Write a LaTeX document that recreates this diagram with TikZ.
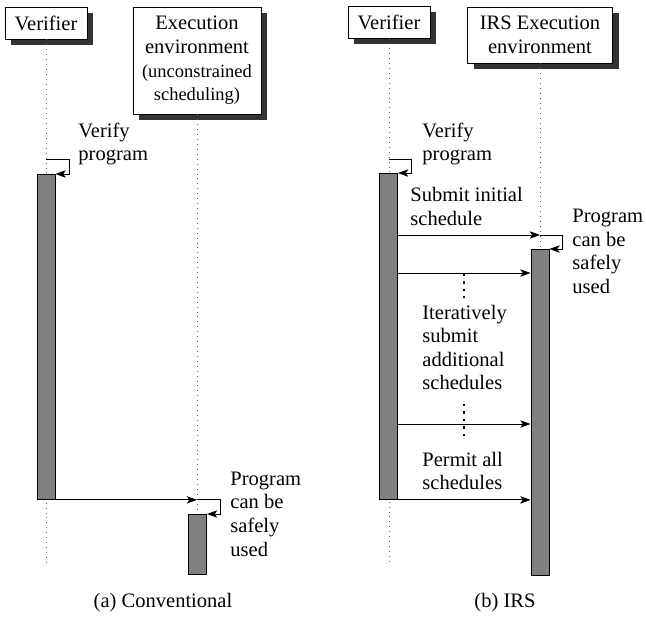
\documentclass[tikz,border=0pt]{standalone}
\usepackage{fontspec}
\setmainfont{Liberation Serif}
\usetikzlibrary{positioning,calc,shadows,arrows.meta}

\begin{document}
\begin{tikzpicture}[x=0.487pt, y=-0.487pt, >={Stealth[length=5pt,width=3.6pt,inset=1.2pt]}, font=\fontsize{10}{11.5}\selectfont]
    % Styles
    \tikzstyle{actor} = [draw, fill=white, align=center, inner sep=3pt, drop shadow={shadow xshift=3pt, shadow yshift=-3pt, fill=black!80, opacity=1}]
    \tikzstyle{life} = [dotted, black!60]
    \tikzstyle{act} = [draw, fill=black!50, minimum width=8.8pt, inner sep=0pt, anchor=north]
    \tikzstyle{lbl} = [align=left, anchor=west, inner sep=0pt]
    \tikzstyle{dots} = [line width=1.1pt, dash pattern=on 1.1pt off 2.55pt]

    \useasboundingbox (0,0) rectangle (646,618);

    % (a) Conventional
    \node[actor, minimum width=40pt, minimum height=15.6pt] (verA) at (46,23) {Verifier};
    \node[actor, minimum width=62.3pt, minimum height=52.1pt] (exA) at (197,60.5) {Execution\\environment\\{\small(unconstrained}\\{\small scheduling)}};

    \coordinate (verAend) at (46,563);
    \coordinate (exAend) at (197,574);
    \draw[life] (verA.south) -- (verAend);
    \draw[life] (exA.south) -- (exAend);

    \node[act, minimum height=158.3pt] (actA1) at (46,174) {};
    \node[act, minimum height=29.2pt] (actA2) at (197.5,514) {};

    % verify step
    \coordinate (vA) at (46,159);
    \draw[->] (vA) -| ($(actA1.north east)+(14,0)$) -- (actA1.north east);
    \node[lbl] (vlblA) at (78,144) {Verify\\program};

    % hand over to execution
    \coordinate (hA) at (exA.south |- actA1.south);
    \draw[->] (actA1.south east) -- (hA);
    \draw[->] (hA) -| ($(actA2.north east)+(13,0)$) -- (actA2.north east);
    \node[lbl] (ulblA) at (230,514) {Program\\can be\\safely\\used};

    \node (capA) at (163,603) {(a) Conventional};

    % (b) IRS
    \node[actor, minimum width=40pt, minimum height=15.6pt] (verB) at (389,22) {Verifier};
    \node[actor, minimum width=70.6pt, minimum height=27.3pt] (exB) at (540,35) {IRS Execution\\environment};

    \coordinate (verBend) at (389,563);
    \coordinate (exBend) at (540,575);
    \draw[life] (verB.south) -- (verBend);
    \draw[life] (exB.south) -- (exBend);

    \node[act, minimum height=158.8pt] (actB1) at (388.5,173) {};
    \node[act, minimum height=158.8pt] (actB2) at (540,249) {};

    % verify step
    \coordinate (vB) at (389,159);
    \draw[->] (vB) -| ($(actB1.north east)+(13,0)$) -- (actB1.north east);
    \node[lbl] (vlblB) at (422,144) {Verify\\program};

    % initial schedule
    \coordinate (sB) at (actB1.east |- 0,235);
    \coordinate (hB) at (exB.south |- sB);
    \draw[->] (sB) -- (hB);
    \draw[->] (hB) -| ($(actB2.north east)+(13,0)$) -- (actB2.north east);
    \node[lbl] (slblB) at (410,206.5) {Submit initial\\schedule};
    \node[lbl] (ulblB) at (572,251.5) {Program\\can be\\safely\\used};

    % further schedules
    \coordinate (m1) at (actB1.east |- 0,273);
    \coordinate (m2) at (actB1.east |- 0,424);
    \draw[->] (m1) -- (actB2.west |- m1);
    \draw[->] (m2) -- (actB2.west |- m2);
    \coordinate (d1) at (464,274);
    \coordinate (d2) at (464,298);
    \coordinate (d3) at (464,404);
    \coordinate (d4) at (464,438);
    \draw[dots] (d1) -- (d2);
    \draw[dots] (d3) -- (d4);
    \node[lbl] (ilblB) at (422,347.5) {Iteratively\\submit\\additional\\schedules};

    % permit all
    \draw[->] (actB1.south east) -- (actB2.west |- actB1.south);
    \node[lbl] (plblB) at (422,471) {Permit all\\schedules};

    \node (capB) at (505,603) {(b) IRS};
\end{tikzpicture}
\end{document}
